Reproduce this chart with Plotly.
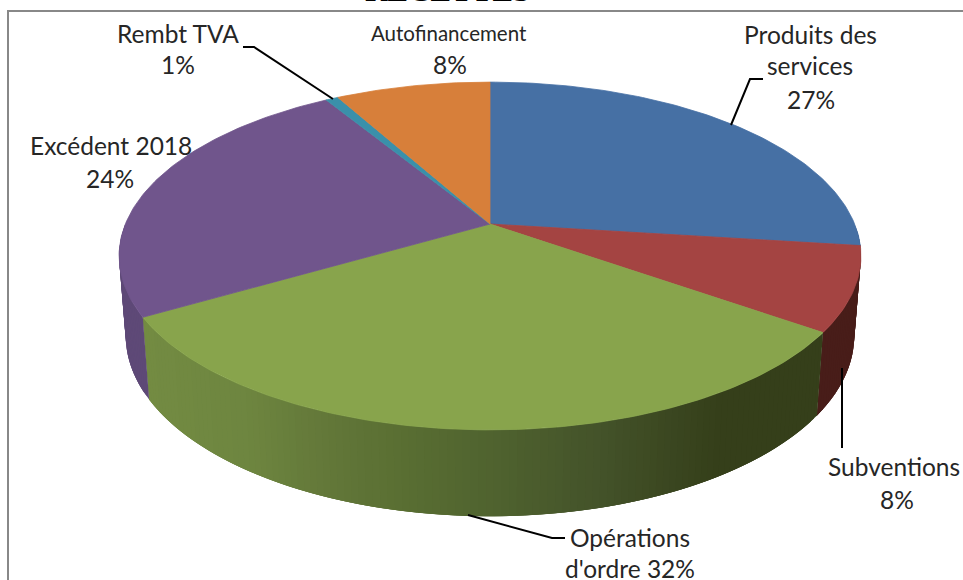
import math
import plotly.graph_objects as go

# ---- data ----
categories = ["Produits des services", "Subventions", "Opérations d'ordre", "Excédent 2018", "Rembt TVA", "Autofinancement"]
values = [27.0, 7.8, 31.8, 24.7, 0.65, 8.05]
top_colors = ["#4670a4", "#a44442", "#88a44c", "#70558c", "#3a90aa", "#d77f3a"]

label_lines = ["Produits des", "services", "27%", "Subventions", "8%", "Opérations", "d'ordre 32%",
               "Excédent 2018", "24%", "Rembt TVA", "1%", "Autofinancement", "8%"]
label_x = [810, 810, 811, 894, 897, 630, 630, 111, 110, 178, 178, 449, 450]
label_y = [34, 65, 99, 466, 499, 537, 568, 145, 178, 33, 64, 33, 64]
label_size = [24.5, 24.5, 24.5, 24.5, 24.5, 24.5, 24.5, 24.5, 24.5, 24.5, 24.5, 20.5, 24.5]

leaders = [([763, 750, 731], [79, 79, 125]),
           ([842, 842], [368, 448]),
           ([565, 552, 468], [538, 538, 515]),
           ([243, 254, 333], [47, 47, 99])]

# ---- projection of the tilted disc ----
XC, YC, A, B, K = 490.0, 224.0, 364.6, 168.0, 0.184
YB, AB, BB = 303.0, 358.0, 174.0


def top(theta):
    u, v = math.sin(theta), math.cos(theta)
    w = 1 + K * v
    return XC + A * u / w, YC - B * v / w


def bottom(theta):
    u, v = math.sin(theta), math.cos(theta)
    w = 1 + K * v
    return XC + AB * u / w, YB - BB * v / w


def hex_rgb(h):
    return tuple(int(h[i:i + 2], 16) for i in (1, 3, 5))


green_stops = [(140, "#748c43"), (250, "#6e8640"), (320, "#64793a"), (400, "#5a6f33"),
               (500, "#4f622f"), (600, "#44532a"), (720, "#353f1a"), (830, "#353f1a")]


def green_at(x):
    for (x0, c0), (x1, c1) in zip(green_stops, green_stops[1:]):
        if x <= x1:
            f = max(0.0, (x - x0) / (x1 - x0))
            a, b = hex_rgb(c0), hex_rgb(c1)
            return "rgb(%d,%d,%d)" % tuple(a[i] + (b[i] - a[i]) * f for i in range(3))
    return green_stops[-1][1]


side_flat = {0: "#2d4a70", 1: "#481d19", 3: "#5e4977"}

total = sum(values)
edges = [0.0]
for val in values:
    edges.append(edges[-1] + val / total * 2 * math.pi)

fig = go.Figure()


def poly(xs, ys, color, name, width=0.8):
    fig.add_trace(go.Scatter(x=xs, y=ys, mode="lines", fill="toself", fillcolor=color,
                             line=dict(color=color, width=width), hoverinfo="skip",
                             name=name, showlegend=False))


# visible rim, back to front; each strip runs under the next one so no seams show
vis0, vis1 = math.radians(90), math.radians(270)
for i, name in enumerate(categories):
    a0, a1 = max(edges[i], vis0), min(edges[i + 1], vis1)
    if a1 <= a0:
        continue
    n = max(1, int((a1 - a0) / math.radians(1.0)))
    for j in range(n):
        t0 = a0 + (a1 - a0) * j / n
        t1 = a0 + (a1 - a0) * min(j + 3, n) / n
        mid = a0 + (a1 - a0) * (j + 0.5) / n
        p = [top(t0), top(t1), bottom(t1), bottom(t0), top(t0)]
        col = green_at((top(mid)[0] + bottom(mid)[0]) / 2) if i == 2 else side_flat[i]
        poly([q[0] for q in p], [q[1] for q in p], col, name, 0)

# top face
for i, name in enumerate(categories):
    n = max(2, int((edges[i + 1] - edges[i]) / math.radians(1)))
    pts = [top(edges[i] + (edges[i + 1] - edges[i]) * j / n) for j in range(n + 1)]
    xs = [XC] + [q[0] for q in pts] + [XC]
    ys = [YC] + [q[1] for q in pts] + [YC]
    poly(xs, ys, top_colors[i], name)

# leader lines
for lx, ly in leaders:
    fig.add_trace(go.Scatter(x=lx, y=ly, mode="lines", line=dict(color="#000000", width=2),
                             hoverinfo="skip", showlegend=False))

# frame
fig.add_trace(go.Scatter(x=[8, 8, 963], y=[580, 11, 11], mode="lines",
                         line=dict(color="#888888", width=2), hoverinfo="skip", showlegend=False))

annotations = [dict(x=x, y=y, text=t, showarrow=False, xanchor="center", yanchor="middle",
                    font=dict(family="Lato", size=s, color="#262626"))
               for t, x, y, s in zip(label_lines, label_x, label_y, label_size)]
annotations.append(dict(x=447, y=10, text="<b>RECETTES</b>", showarrow=False, xanchor="center",
                        yanchor="bottom",
                        font=dict(family="Liberation Serif", size=31, color="#000000")))

fig.update_layout(width=963, height=580, margin=dict(l=0, r=0, t=0, b=0),
                  paper_bgcolor="white", plot_bgcolor="white", showlegend=False,
                  xaxis=dict(range=[0, 963], visible=False, fixedrange=True),
                  yaxis=dict(range=[580, 0], visible=False, fixedrange=True),
                  annotations=annotations)

fig.write_html("out.html", config=dict(displayModeBar=False),
               post_script="document.body.style.margin='0';")
